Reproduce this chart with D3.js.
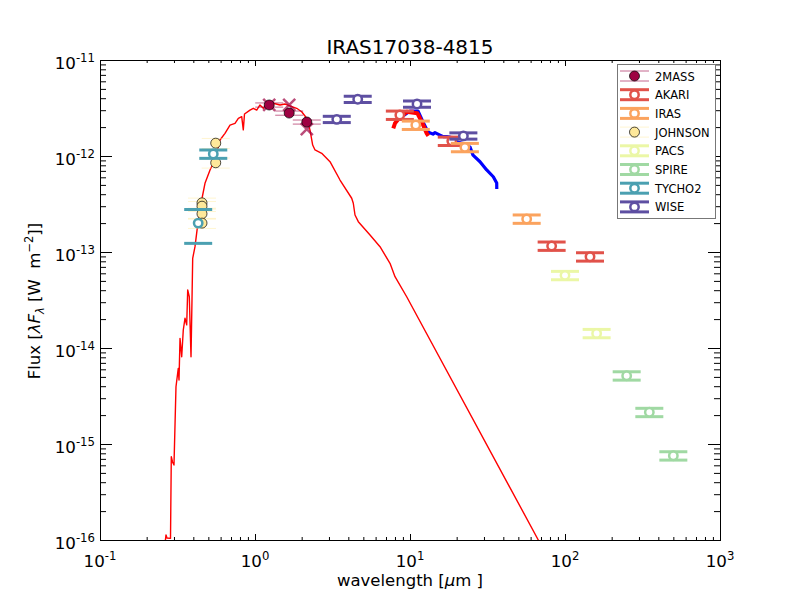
<!DOCTYPE html>
<html>
<head>
<meta charset="utf-8">
<script src="https://cdn.jsdelivr.net/npm/d3@7"></script>
<style>
  html, body { margin: 0; padding: 0; background: #fff; overflow: hidden; }
  #chart svg { display: block; }
  svg text { font-family: "DejaVu Sans", sans-serif; fill: #000; }
</style>
</head>
<body>
<div id="chart"></div>
<script>
'use strict';

// model SED (thin red line), wavelength in micron, flux in W m^-2
const modelWave = [0.262, 0.2666, 0.2705, 0.2850, 0.2884, 0.2936, 0.3002, 0.3092, 0.3199, 0.3234,
  0.3283, 0.3366, 0.3446, 0.3534, 0.3625, 0.3680, 0.3768, 0.3865, 0.3922, 0.3963,
  0.4101, 0.4306, 0.4530, 0.4757, 0.5127, 0.5521, 0.5944, 0.6403, 0.6898, 0.7430,
  0.7806, 0.8208, 0.8403, 0.8556, 0.9284, 0.9750, 1.026, 1.077, 1.131, 1.190,
  1.313, 1.450, 1.561, 1.682, 1.858, 2.001, 2.156, 2.263, 2.356, 2.439,
  2.694, 3.047, 3.535, 4.206, 4.307, 4.418, 4.640, 5.521, 6.405, 7.430,
  8.003, 9.52, 67.25, 80];
const modelFlux = [8.9e-17, 1.13e-16, 1.05e-16, 1.04e-16, 7.38e-16, 6.49e-16, 6.04e-16, 3.95e-15, 6.14e-15, 4.64e-15,
  1.26e-14, 8.11e-15, 1.54e-14, 2.04e-14, 1.74e-14, 4.02e-14, 3.42e-14, 8.11e-15, 3.16e-14, 8.6e-14,
  1.136e-13, 2.15e-13, 3.48e-13, 5.2e-13, 7.15e-13, 9.08e-13, 1.468e-12, 1.723e-12, 2.10e-12, 2.19e-12,
  2.47e-12, 2.57e-12, 1.87e-12, 2.74e-12, 3.01e-12, 3.14e-12, 3.01e-12, 3.40e-12, 3.14e-12, 3.54e-12,
  3.54e-12, 3.40e-12, 3.48e-12, 3.32e-12, 3.14e-12, 2.89e-12, 2.47e-12, 1.87e-12, 1.30e-12, 1.155e-12,
  1.067e-12, 8.72e-13, 5.62e-13, 3.63e-13, 3.22e-13, 2.43e-13, 2.07e-13, 1.503e-13, 1.136e-13, 7.62e-14,
  5.53e-14, 3.42e-14, 1.0e-16, 5.9e-17];

// mid-IR spectra
const specBlueWave = [8.84, 10.0, 11.26, 12.13, 13.06, 14.07, 14.50, 15.61, 16.39, 17.25, 18.13, 19.51,
  20.01, 22.63, 24.39, 25.50, 28.29, 31.24, 34.46, 36.26, 36.3];
const specBlueFlux = [2.55e-12, 2.94e-12, 2.94e-12, 2.26e-12, 1.78e-12, 1.69e-12, 1.75e-12, 1.65e-12, 1.59e-12, 1.59e-12, 1.57e-12, 1.38e-12,
  1.41e-12, 1.33e-12, 1.24e-12, 1.02e-12, 8.72e-13, 7.15e-13, 6.08e-13, 5.23e-13, 4.53e-13];
const specRedWave = [7.80, 8.00, 8.40, 9.52, 11.15, 11.90, 12.82, 13.13];
const specRedFlux = [1.94e-12, 2.19e-12, 2.41e-12, 2.89e-12, 2.79e-12, 2.28e-12, 1.72e-12, 1.62e-12];

// photometry
const bands = ['2MASS', 'AKARI', 'IRAS', 'JOHNSON', 'PACS', 'SPIRE', 'TYCHO2', 'WISE'];

const twomassWave = [1.235, 1.662, 2.159];
const twomassFlux = [3.40e-12, 2.80e-12, 2.26e-12];
const twomassErr = [0.17e-12, 0.14e-12, 0.11e-12];
const twomassCross = [3.40e-12, 3.40e-12, 1.90e-12];

const akariWave = [8.6, 18.6, 82, 145];
const akariFlux = [2.67e-12, 1.43e-12, 1.155e-13, 8.93e-14];

const irasWave = [10.9, 22.6, 56.6];
const irasFlux = [2.10e-12, 1.23e-12, 2.21e-13];

const johnsonWave = [0.455, 0.455, 0.455, 0.455, 0.558, 0.558];
const johnsonFlux = [3.25e-13, 3.0e-13, 2.5e-13, 2.0e-13, 1.36e-12, 8.5e-13];

const pacsWave = [100, 160];
const pacsFlux = [5.71e-14, 1.42e-14];

const spireWave = [250, 350, 500];
const spireFlux = [5.14e-15, 2.14e-15, 7.55e-16];

const tychoWave = [0.43, 0.538];
const tychoFlux = [2.0e-13, 1.05e-12];
const tychoErr = [0.77e-13, 0.105e-12];

const wiseWave = [3.37, 4.6, 11.1, 22.1];
const wiseFlux = [2.41e-12, 3.9e-12, 3.48e-12, 1.62e-12];

const xMajor = [0.1, 1, 10, 100, 1000];
const yMajor = [1e-16, 1e-15, 1e-14, 1e-13, 1e-12, 1e-11];

const width = 800, height = 600;
const margin = { top: 60, right: 80, bottom: 60, left: 100 };
const innerWidth = width - margin.left - margin.right;
const innerHeight = height - margin.top - margin.bottom;

const color = d3.scaleOrdinal()
  .domain(bands)
  .range(d3.quantize(d3.interpolateSpectral, bands.length));

const pct = (f, p) => f.map(v => v * p);

// kind: 'filled' (2MASS), 'johnson', 'open'
const series = [
  { name: '2MASS', wave: twomassWave, flux: twomassFlux, err: twomassErr, kind: 'filled' },
  { name: 'AKARI', wave: akariWave, flux: akariFlux, err: pct(akariFlux, 0.1), kind: 'open' },
  { name: 'IRAS', wave: irasWave, flux: irasFlux, err: pct(irasFlux, 0.1), kind: 'open' },
  { name: 'JOHNSON', wave: johnsonWave, flux: johnsonFlux, err: pct(johnsonFlux, 0.12), kind: 'johnson' },
  { name: 'PACS', wave: pacsWave, flux: pacsFlux, err: pct(pacsFlux, 0.1), kind: 'open' },
  { name: 'SPIRE', wave: spireWave, flux: spireFlux, err: pct(spireFlux, 0.1), kind: 'open' },
  { name: 'TYCHO2', wave: tychoWave, flux: tychoFlux, err: tychoErr, kind: 'open' },
  { name: 'WISE', wave: wiseWave, flux: wiseFlux, err: pct(wiseFlux, 0.075), kind: 'open' },
];

const svg = d3.select('#chart')
  .append('svg')
  .attr('width', width)
  .attr('height', height);

const graph = svg.append('g')
  .attr('transform', 'translate(' + margin.left + ',' + margin.top + ')');

// scales in page coordinates, so texts need no transforms
const x = d3.scaleLog().domain([0.1, 1000]).range([0, innerWidth]);
const y = d3.scaleLog().domain([1e-16, 1e-11]).range([innerHeight, 0]);

function minorTicks(lo, hi) {
  let out = [];
  for (let e = lo; e < hi; e++) {
    for (let k = 2; k < 10; k++) out.push(k * Math.pow(10, e));
  }
  return out;
}

svg.append('defs').append('clipPath').attr('id', 'clip')
  .append('rect').attr('width', innerWidth).attr('height', innerHeight);

const plot = graph.append('g').attr('clip-path', 'url(#clip)');

const line = d3.line().x(d => x(d[0])).y(d => y(d[1]));

// model + spectra
plot.append('path')
  .datum(d3.zip(modelWave, modelFlux))
  .attr('d', line)
  .attr('fill', 'none')
  .attr('stroke', '#ff0000')
  .attr('stroke-width', 1.4)
  .attr('stroke-linejoin', 'round');

plot.append('path')
  .datum(d3.zip(specBlueWave, specBlueFlux))
  .attr('d', line)
  .attr('fill', 'none')
  .attr('stroke', '#0000ff')
  .attr('stroke-width', 3.2)
  .attr('stroke-linejoin', 'round');

plot.append('path')
  .datum(d3.zip(specRedWave, specRedFlux))
  .attr('d', line)
  .attr('fill', 'none')
  .attr('stroke', '#ff0000')
  .attr('stroke-width', 4)
  .attr('stroke-linejoin', 'round');

// crosses at the 2MASS bands
plot.selectAll('path.cross')
  .data(d3.zip(twomassWave, twomassCross))
  .enter().append('path')
  .attr('class', 'cross')
  .attr('transform', d => 'translate(' + x(d[0]) + ',' + y(d[1]) + ')')
  .attr('d', 'M-6,-6L6,6M-6,6L6,-6')
  .attr('stroke', color('2MASS'))
  .attr('stroke-opacity', 0.7)
  .attr('stroke-width', 2.5);

const capHalf = 14;

function capStyle(sel, kind, c) {
  sel.attr('stroke', c)
    .attr('stroke-width', kind === 'open' ? 3 : 1)
    .attr('stroke-opacity', kind === 'open' ? 1 : (kind === 'filled' ? 0.6 : 0.45));
}

function markerStyle(sel, kind, c) {
  if (kind === 'open') {
    sel.attr('r', 4.2).attr('fill', '#fff').attr('stroke', c).attr('stroke-width', 2.5);
  } else {
    sel.attr('r', 5).attr('fill', c).attr('stroke', '#000').attr('stroke-width', 0.7);
  }
}

series.forEach(s => {
  const c = color(s.name);
  const pts = s.wave.map((w, i) => ({ w: w, f: s.flux[i], e: s.err[i] }));
  const g = plot.append('g').attr('class', 'band');

  ['hi', 'lo'].forEach(side => {
    g.selectAll('line.' + side).data(pts).enter()
      .append('line')
      .attr('class', side)
      .attr('x1', d => x(d.w) - capHalf)
      .attr('x2', d => x(d.w) + capHalf)
      .attr('y1', d => y(side === 'hi' ? d.f + d.e : d.f - d.e))
      .attr('y2', d => y(side === 'hi' ? d.f + d.e : d.f - d.e))
      .call(capStyle, s.kind, c);
  });

  g.selectAll('circle').data(pts).enter()
    .append('circle')
    .attr('cx', d => x(d.w))
    .attr('cy', d => y(d.f))
    .call(markerStyle, s.kind, c);
});

// axes: ticks inside on all four sides, no labels from the axis itself
const xMinor = minorTicks(-1, 3);
const yMinor = minorTicks(-16, -11);

function addTicks(axis, vals, size, transform) {
  const g = graph.append('g')
    .attr('transform', transform)
    .call(axis.tickValues(vals).tickSize(-size).tickSizeOuter(0));
  g.select('.domain').remove();
  g.selectAll('text').remove();
  g.selectAll('line').attr('stroke', '#000');
}

addTicks(d3.axisBottom(x), xMajor, 6, 'translate(0,' + innerHeight + ')');
addTicks(d3.axisBottom(x), xMinor, 3, 'translate(0,' + innerHeight + ')');
addTicks(d3.axisTop(x), xMajor, 6, null);
addTicks(d3.axisTop(x), xMinor, 3, null);
addTicks(d3.axisLeft(y), yMajor, 12, null);
addTicks(d3.axisLeft(y), yMinor, 6, null);
addTicks(d3.axisRight(y), yMajor, 12, 'translate(' + innerWidth + ',0)');
addTicks(d3.axisRight(y), yMinor, 6, 'translate(' + innerWidth + ',0)');

// frame
graph.append('rect')
  .attr('x', 0.5).attr('y', 0.5)
  .attr('width', innerWidth).attr('height', innerHeight)
  .attr('fill', 'none')
  .attr('stroke', '#000')
  .attr('stroke-width', 1);

// tick labels: "10" plus a raised exponent, placed in page coordinates
const baseSize = 16.7, expSize = 11.7;
const expo = d => String(Math.round(Math.log10(d)));
const labels = svg.append('g');

xMajor.forEach(d => {
  const px = margin.left + x(d), py = margin.top + innerHeight + 27;
  const base = labels.append('text').attr('font-size', baseSize).attr('y', py).text('10');
  const exp = labels.append('text').attr('font-size', expSize).attr('y', py - 7).text(expo(d));
  const bw = base.node().getComputedTextLength();
  const ew = exp.node().getComputedTextLength();
  base.attr('x', px - (bw + ew) / 2);
  exp.attr('x', px - (bw + ew) / 2 + bw);
});

yMajor.forEach(d => {
  const px = margin.left - 5, py = margin.top + y(d) + 9;
  const exp = labels.append('text').attr('font-size', expSize)
    .attr('x', px).attr('y', py - 7)
    .attr('text-anchor', 'end').text(expo(d));
  const ew = exp.node().getComputedTextLength();
  labels.append('text').attr('font-size', baseSize)
    .attr('x', px - ew).attr('y', py)
    .attr('text-anchor', 'end').text('10');
});

// title + axis labels
svg.append('text')
  .attr('x', margin.left + innerWidth / 2)
  .attr('y', 54)
  .attr('text-anchor', 'middle')
  .attr('font-size', 20)
  .text('IRAS17038-4815');

const xl = svg.append('text')
  .attr('x', margin.left + innerWidth / 2)
  .attr('y', 586)
  .attr('text-anchor', 'middle')
  .attr('font-size', 16.5);
xl.append('tspan').text('wavelength [');
xl.append('tspan').attr('font-style', 'italic').text('μ');
xl.append('tspan').text('m ]');

const yl = svg.append('text')
  .attr('x', 40)
  .attr('y', 301)
  .attr('transform', 'rotate(-90,40,301)')
  .attr('text-anchor', 'middle')
  .attr('font-size', 16.5);
yl.append('tspan').text('Flux [');
yl.append('tspan').attr('font-style', 'italic').text('λF');
yl.append('tspan').attr('font-style', 'italic').attr('font-size', 11.5).attr('dy', 4).text('λ');
yl.append('tspan').attr('dy', -4).text(' [W\u00a0\u00a0m');
yl.append('tspan').attr('font-size', 11.5).attr('dy', -7).text('−2');
yl.append('tspan').attr('dy', 7).text(']]');

// legend
const legend = svg.append('g').attr('transform', 'translate(617.5,64.5)');
legend.append('rect')
  .attr('width', 98)
  .attr('height', 154)
  .attr('fill', '#fff')
  .attr('stroke', '#777')
  .attr('stroke-width', 1);

const rows = legend.selectAll('g.row')
  .data(series).enter()
  .append('g')
  .attr('class', 'row')
  .attr('transform', (d, i) => 'translate(0,' + (11.5 + i * 18.7) + ')');

[-5, 5].forEach(off => {
  rows.append('line')
    .attr('x1', 2.5).attr('x2', 31.5)
    .attr('y1', off).attr('y2', off)
    .each(function (d) { d3.select(this).call(capStyle, d.kind, color(d.name)); });
});

rows.append('circle')
  .attr('cx', 17)
  .attr('cy', 0)
  .each(function (d) { d3.select(this).call(markerStyle, d.kind, color(d.name)); });

rows.append('text')
  .attr('x', 37.5)
  .attr('y', 4.5)
  .attr('font-size', 11.5)
  .text(d => d.name);
</script>
</body>
</html>
